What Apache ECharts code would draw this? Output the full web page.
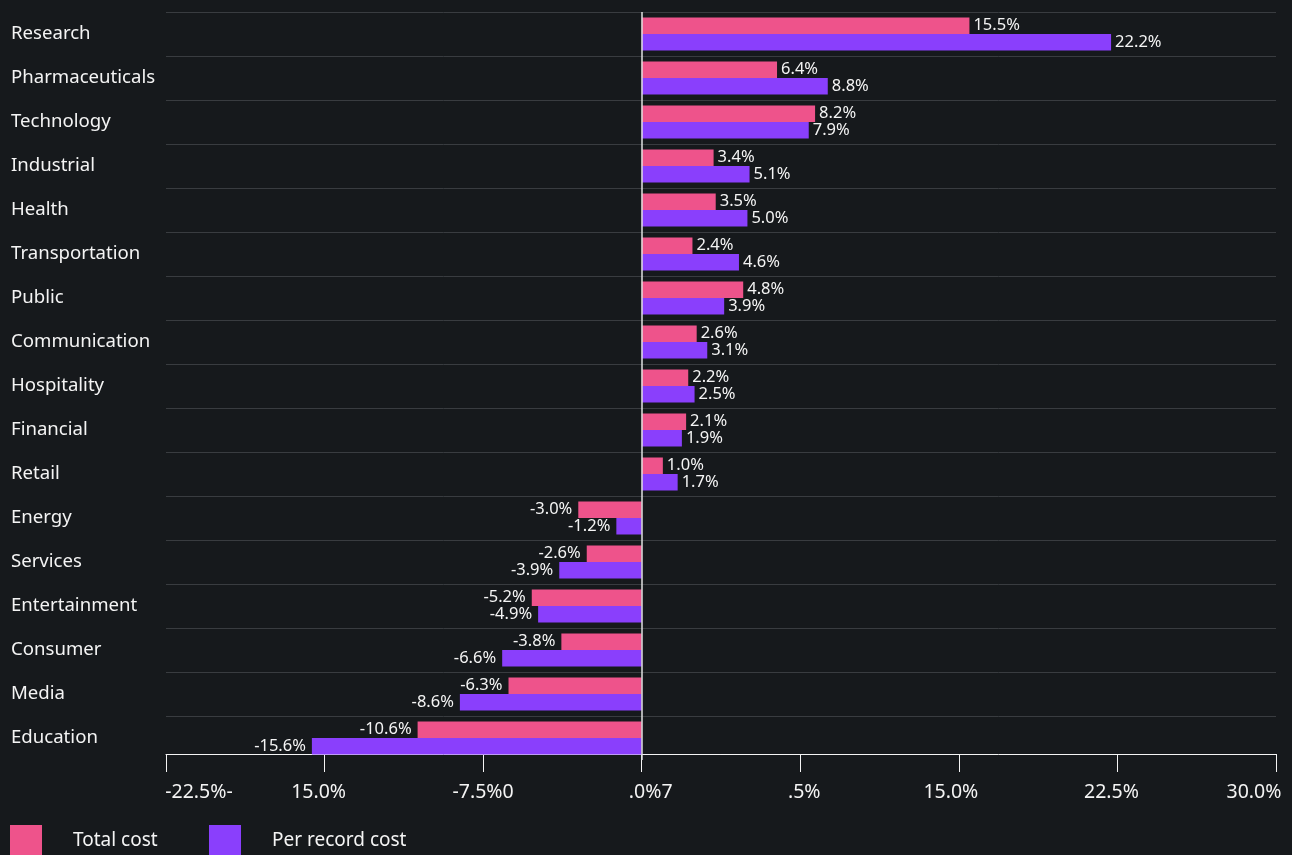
<!DOCTYPE html>
<html><head><meta charset="utf-8">
<script src="https://cdn.jsdelivr.net/npm/echarts@6/dist/echarts.min.js"></script>
<style>html,body{margin:0;padding:0;background:#16191c}#c{width:1292px;height:855px}</style>
</head><body><div id="c"></div>
<script>
const categories = ['Research','Pharmaceuticals','Technology','Industrial','Health','Transportation','Public','Communication','Hospitality','Financial','Retail','Energy','Services','Entertainment','Consumer','Media','Education'];
const totalCost = [15.5, 6.4, 8.2, 3.4, 3.5, 2.4, 4.8, 2.6, 2.2, 2.1, 1.0, -3.0, -2.6, -5.2, -3.8, -6.3, -10.6];
const perRecordCost = [22.2, 8.8, 7.9, 5.1, 5.0, 4.6, 3.9, 3.1, 2.5, 1.9, 1.7, -1.2, -3.9, -4.9, -6.6, -8.6, -15.6];
const seriesNames = ['Total cost', 'Per record cost'];
const xTickValues = [-22.5, -15, -7.5, 0, 7.5, 15, 22.5, 30];
const xTickLabels = ['-22.5%-', '15.0%', '-7.5%0', '.0%7', '.5%', '15.0%', '22.5%', '30.0%'];

// styling
const FONT = 'Noto Sans';
const TXT = '#f4f4f4';
const PINK = '#ee538b';
const PURPLE = '#8a3ffc';
const xLabelShift = [33, -6, 0, 9, 4, -8, -6, -22];
const rich = {};
xLabelShift.forEach((s, i) => {
  rich['s' + i] = {
    fontFamily: FONT, fontSize: 19.5, color: TXT,
    padding: s > 0 ? [0, 0, 0, 2 * s] : [0, -2 * s, 0, 0]
  };
});

function barData(arr) {
  return arr.map(v => ({
    value: v,
    label: { position: v < 0 ? 'left' : 'right', distance: v < 0 ? 6 : 4 }
  }));
}
const barLabel = {
  show: true, color: TXT, fontFamily: FONT, fontSize: 16.5,
  formatter: p => p.value.toFixed(1) + '%'
};
const legendText = { rich: { t: { fontFamily: FONT, fontSize: 19, color: TXT, padding: [0, 0, 0, 26] } } };

const chart = echarts.init(document.getElementById('c'), null, { renderer: 'canvas' });
chart.setOption({
  backgroundColor: '#16191c',
  animation: false,
  textStyle: { fontFamily: FONT },
  grid: { left: 166, right: 16, top: 12, bottom: 95, containLabel: false },
  legend: [
    {
      data: [seriesNames[0]], left: 10, top: 825, padding: 0, itemWidth: 32, itemHeight: 32,
      icon: 'rect', selectedMode: false,
      formatter: n => '{t|' + n + '}', textStyle: legendText
    },
    {
      data: [seriesNames[1]], left: 209, top: 825, padding: 0, itemWidth: 32, itemHeight: 32,
      icon: 'rect', selectedMode: false,
      formatter: n => '{t|' + n + '}', textStyle: legendText
    }
  ],
  xAxis: {
    type: 'value', min: xTickValues[0], max: xTickValues[xTickValues.length - 1], interval: 7.5,
    offset: -6,
    axisLine: { show: true, onZero: false, lineStyle: { color: TXT, width: 1 } },
    axisTick: { show: true, length: 18, lineStyle: { color: TXT, width: 1 } },
    splitLine: { show: false },
    axisLabel: {
      margin: 28, showMinLabel: true, showMaxLabel: true,
      fontFamily: FONT, fontSize: 19.5, color: TXT,
      formatter: v => {
        const i = xTickValues.findIndex(t => Math.abs(t - v) < 1e-6);
        return i < 0 ? '' : '{s' + i + '|' + xTickLabels[i] + '}';
      },
      rich: rich
    }
  },
  yAxis: {
    type: 'category', data: categories, inverse: true,
    axisLine: { show: false }, axisTick: { show: false },
    splitLine: { show: true, interval: 0, showMaxLine: false, lineStyle: { color: '#393c40', width: 1 } },
    axisLabel: {
      interval: 0, align: 'left', margin: 155, color: TXT, fontFamily: FONT, fontSize: 18.6,
      verticalAlign: 'middle', padding: [0, 0, 10, 0]
    }
  },
  series: [
    {
      name: seriesNames[0], type: 'bar', data: barData(totalCost),
      itemStyle: { color: PINK }, barCategoryGap: '25%', barGap: '0%',
      label: barLabel,
      markLine: {
        silent: true, symbol: 'none', label: { show: false },
        lineStyle: { color: '#e0e0e0', width: 1.5, type: 'solid' },
        data: [{ xAxis: 0 }], z: 10
      }
    },
    {
      name: seriesNames[1], type: 'bar', data: barData(perRecordCost),
      itemStyle: { color: PURPLE }, barCategoryGap: '25%', barGap: '0%',
      label: barLabel
    }
  ]
});
</script></body></html>
